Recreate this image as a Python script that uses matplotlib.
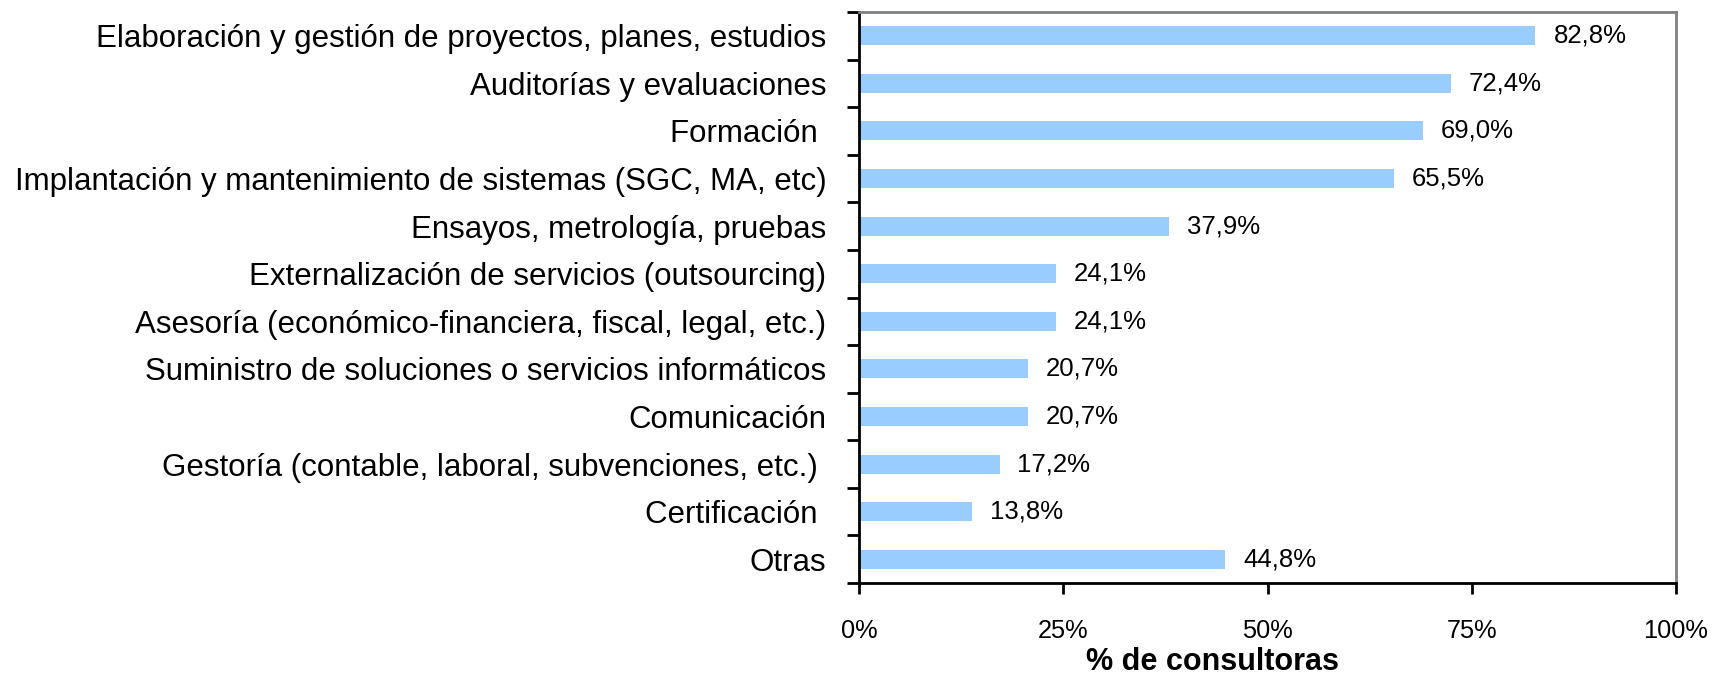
import matplotlib
matplotlib.use("Agg")
import matplotlib.pyplot as plt
from matplotlib.ticker import FixedLocator, FuncFormatter

categories = [
    "Elaboración y gestión de proyectos, planes, estudios",
    "Auditorías y evaluaciones",
    "Formación ",
    "Implantación y mantenimiento de sistemas (SGC, MA, etc)",
    "Ensayos, metrología, pruebas",
    "Externalización de servicios (outsourcing)",
    "Asesoría (económico-financiera, fiscal, legal, etc.)",
    "Suministro de soluciones o servicios informáticos",
    "Comunicación",
    "Gestoría (contable, laboral, subvenciones, etc.) ",
    "Certificación ",
    "Otras",
]
values = [82.8, 72.4, 69.0, 65.5, 37.9, 24.1, 24.1, 20.7, 20.7, 17.2, 13.8, 44.8]
value_labels = ["82,8%", "72,4%", "69,0%", "65,5%", "37,9%", "24,1%", "24,1%",
                "20,7%", "20,7%", "17,2%", "13,8%", "44,8%"]
xticks = [0, 25, 50, 75, 100]
xlabel = "% de consultoras"

plt.rcParams['font.family'] = ['Liberation Sans', 'DejaVu Sans']

fig = plt.figure(figsize=(17.14, 6.78), dpi=100)
ax = fig.add_axes([859/1714, 1 - 583/678, (1676-859)/1714, (583-12)/678])

n = len(categories)
ypos = list(range(n))
ax.barh(ypos, values, height=0.4, color="#99CCFF", edgecolor="none", zorder=2)
for y, v, lab in zip(ypos, values, value_labels):
    ax.text(v + 2.2, y, lab, va="center", ha="left", fontsize=18.5, color="black")

ax.set_xlim(0, 100)
ax.set_ylim(n - 0.5, -0.5)
ax.set_yticks(ypos)
ax.set_yticklabels(categories, fontsize=22.5)
ax.yaxis.set_minor_locator(FixedLocator([i - 0.5 for i in range(n + 1)]))
ax.tick_params(axis='y', which='major', length=0, pad=23.5)
ax.tick_params(axis='y', which='minor', length=9, width=2, direction='out', color='black')

ax.set_xticks(xticks)
ax.xaxis.set_major_formatter(FuncFormatter(lambda x, p: f"{int(x)}%"))
ax.tick_params(axis='x', which='major', length=8, width=2, direction='out',
               labelsize=18.3, pad=18)
ax.set_xlabel(xlabel, fontsize=22, fontweight='bold')
ax.xaxis.set_label_coords(0.433, -0.112)

for side in ['left', 'bottom']:
    ax.spines[side].set_color('black')
    ax.spines[side].set_linewidth(2)
for side in ['top', 'right']:
    ax.spines[side].set_color('#808080')
    ax.spines[side].set_linewidth(2)

fig.savefig("out.png", dpi=100)
